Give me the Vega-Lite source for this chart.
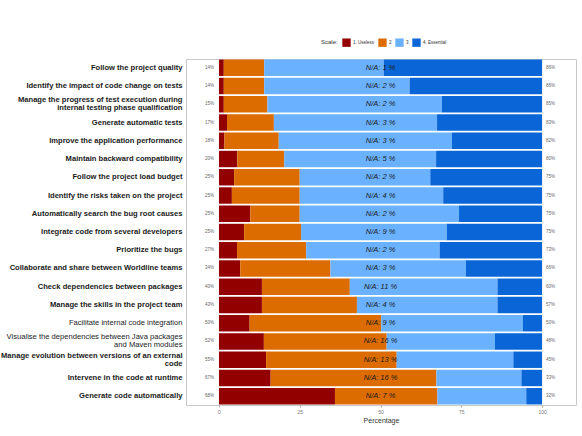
{
  "$schema": "https://vega.github.io/schema/vega-lite/v6.json",
  "width": 390,
  "height": 346,
  "autosize": "none",
  "padding": {"left": 186, "top": 59, "right": 6, "bottom": 31},
  "background": "white",
  "config": {
    "font": "Liberation Sans",
    "view": {"stroke": "#c8c8c8", "strokeWidth": 1}
  },
  "datasets": {
    "survey": [
      {"item": "Follow the project quality", "s1": 1.5, "s2": 12.5, "s3": 37, "s4": 49, "left": 0.14, "right": 0.86, "na": "N/A: 1 %"},
      {"item": "Identify the impact of code change on tests", "s1": 1.5, "s2": 12.5, "s3": 45, "s4": 41, "left": 0.14, "right": 0.86, "na": "N/A: 2 %"},
      {"item": "Manage the progress of test execution during|internal testing phase qualification", "s1": 1.5, "s2": 13.5, "s3": 54, "s4": 31, "left": 0.15, "right": 0.85, "na": "N/A: 2 %"},
      {"item": "Generate automatic tests", "s1": 2.5, "s2": 14.5, "s3": 50.5, "s4": 32.5, "left": 0.17, "right": 0.83, "na": "N/A: 3 %"},
      {"item": "Improve the application performance", "s1": 1.7, "s2": 16.8, "s3": 53.6, "s4": 27.9, "left": 0.18, "right": 0.82, "na": "N/A: 3 %"},
      {"item": "Maintain backward compatibility", "s1": 5.7, "s2": 14.5, "s3": 47, "s4": 32.8, "left": 0.20, "right": 0.80, "na": "N/A: 5 %"},
      {"item": "Follow the project load budget", "s1": 4.7, "s2": 20.3, "s3": 40.4, "s4": 34.6, "left": 0.25, "right": 0.75, "na": "N/A: 2 %"},
      {"item": "Identify the risks taken on the project", "s1": 4, "s2": 21, "s3": 44.4, "s4": 30.6, "left": 0.25, "right": 0.75, "na": "N/A: 4 %"},
      {"item": "Automatically search the bug root causes", "s1": 9.7, "s2": 15.3, "s3": 49.3, "s4": 25.7, "left": 0.25, "right": 0.75, "na": "N/A: 2 %"},
      {"item": "Integrate code from several developers", "s1": 7.8, "s2": 17.6, "s3": 45.1, "s4": 29.5, "left": 0.25, "right": 0.75, "na": "N/A: 9 %"},
      {"item": "Prioritize the bugs", "s1": 5.6, "s2": 21.4, "s3": 41.3, "s4": 31.7, "left": 0.27, "right": 0.73, "na": "N/A: 2 %"},
      {"item": "Collaborate and share between Worldline teams", "s1": 6.6, "s2": 27.9, "s3": 41.9, "s4": 23.6, "left": 0.34, "right": 0.66, "na": "N/A: 3 %"},
      {"item": "Check dependencies between packages", "s1": 13.3, "s2": 27.2, "s3": 45.7, "s4": 13.8, "left": 0.40, "right": 0.60, "na": "N/A: 11 %"},
      {"item": "Manage the skills in the project team", "s1": 13.3, "s2": 29.4, "s3": 43.5, "s4": 13.8, "left": 0.43, "right": 0.57, "na": "N/A: 4 %"},
      {"item": "Facilitate internal code integration", "s1": 9.5, "s2": 40.7, "s3": 43.9, "s4": 5.9, "left": 0.50, "right": 0.50, "na": "N/A: 9 %"},
      {"item": "Visualise the dependencies between Java packages|and Maven modules", "s1": 13.9, "s2": 38, "s3": 33.5, "s4": 14.6, "left": 0.52, "right": 0.48, "na": "N/A: 16 %"},
      {"item": "Manage evolution between versions of an external|code", "s1": 14.6, "s2": 40.4, "s3": 36.1, "s4": 8.9, "left": 0.55, "right": 0.45, "na": "N/A: 13 %"},
      {"item": "Intervene in the code at runtime", "s1": 16, "s2": 51.3, "s3": 26.3, "s4": 6.4, "left": 0.67, "right": 0.33, "na": "N/A: 16 %"},
      {"item": "Generate code automatically", "s1": 35.9, "s2": 31.7, "s3": 27.5, "s4": 4.9, "left": 0.68, "right": 0.32, "na": "N/A: 7 %"}
    ]
  },
  "data": {"name": "survey"},
  "encoding": {
    "y": {
      "field": "item",
      "type": "nominal",
      "sort": null,
      "scale": {"paddingInner": 0.1, "paddingOuter": 0.03},
      "axis": {
        "title": null,
        "domain": false,
        "ticks": false,
        "labelPadding": 4,
        "labelFontSize": 7.6,
        "labelColor": "#1a1a1a",
        "labelLimit": 300,
        "labelLineHeight": 8,
        "labelExpr": "split(datum.label, '|')",
        "labelOffset": {
          "condition": {"test": "indexof(datum.value, '|') >= 0", "value": -4},
          "value": 0
        },
        "labelFontWeight": {
          "condition": {"test": "indexof(['Facilitate internal code integration', 'Visualise the dependencies between Java packages|and Maven modules'], datum.value) >= 0", "value": "normal"},
          "value": "bold"
        }
      }
    }
  },
  "layer": [
    {
      "transform": [{"fold": ["s1", "s2", "s3", "s4"], "as": ["level", "pct"]}],
      "mark": {"type": "bar"},
      "encoding": {
        "x": {
          "field": "pct",
          "type": "quantitative",
          "stack": "zero",
          "scale": {"domain": [-10.2, 110.5], "nice": false, "zero": false},
          "axis": {
            "title": "Percentage",
            "titleFontSize": 7,
            "titleFontWeight": "normal",
            "titleColor": "#333",
            "titlePadding": 2,
            "values": [0, 25, 50, 75, 100],
            "labelFontSize": 5,
            "labelColor": "#777",
            "tickSize": 2,
            "tickColor": "#aaa",
            "domain": false,
            "grid": false,
            "labelPadding": 2
          }
        },
        "order": {"field": "level", "type": "nominal", "sort": "ascending"},
        "color": {
          "field": "level",
          "type": "nominal",
          "scale": {"domain": ["s1", "s2", "s3", "s4"], "range": ["#930000", "#DC6C00", "#6AB2FF", "#0A66D6"]},
          "legend": {
            "title": "Scale:",
            "orient": "none",
            "legendX": 135,
            "legendY": -21,
            "direction": "horizontal",
            "titleOrient": "left",
            "titleFontSize": 6,
            "titleFontWeight": "normal",
            "titleColor": "#333",
            "labelFontSize": 4.5,
            "labelColor": "#333",
            "labelExpr": "datum.label == 's1' ? '1. Useless' : datum.label == 's2' ? '2' : datum.label == 's3' ? '3' : '4. Essential'",
            "symbolType": "square",
            "symbolSize": 70,
            "symbolStrokeWidth": 0,
            "columnPadding": 3,
            "labelOffset": 2,
            "titlePadding": 4
          }
        }
      }
    },
    {
      "mark": {"type": "text", "align": "center", "baseline": "middle", "fontSize": 7.5, "fontStyle": "italic", "color": "#1a1a1a"},
      "encoding": {
        "x": {"datum": 50, "type": "quantitative"},
        "text": {"field": "na"}
      }
    },
    {
      "mark": {"type": "text", "align": "right", "baseline": "middle", "fontSize": 4.5, "color": "#666"},
      "encoding": {
        "x": {"datum": -1.5, "type": "quantitative"},
        "text": {"field": "left", "format": ".0%"}
      }
    },
    {
      "mark": {"type": "text", "align": "left", "baseline": "middle", "fontSize": 4.5, "color": "#666"},
      "encoding": {
        "x": {"datum": 101.2, "type": "quantitative"},
        "text": {"field": "right", "format": ".0%"}
      }
    }
  ]
}
